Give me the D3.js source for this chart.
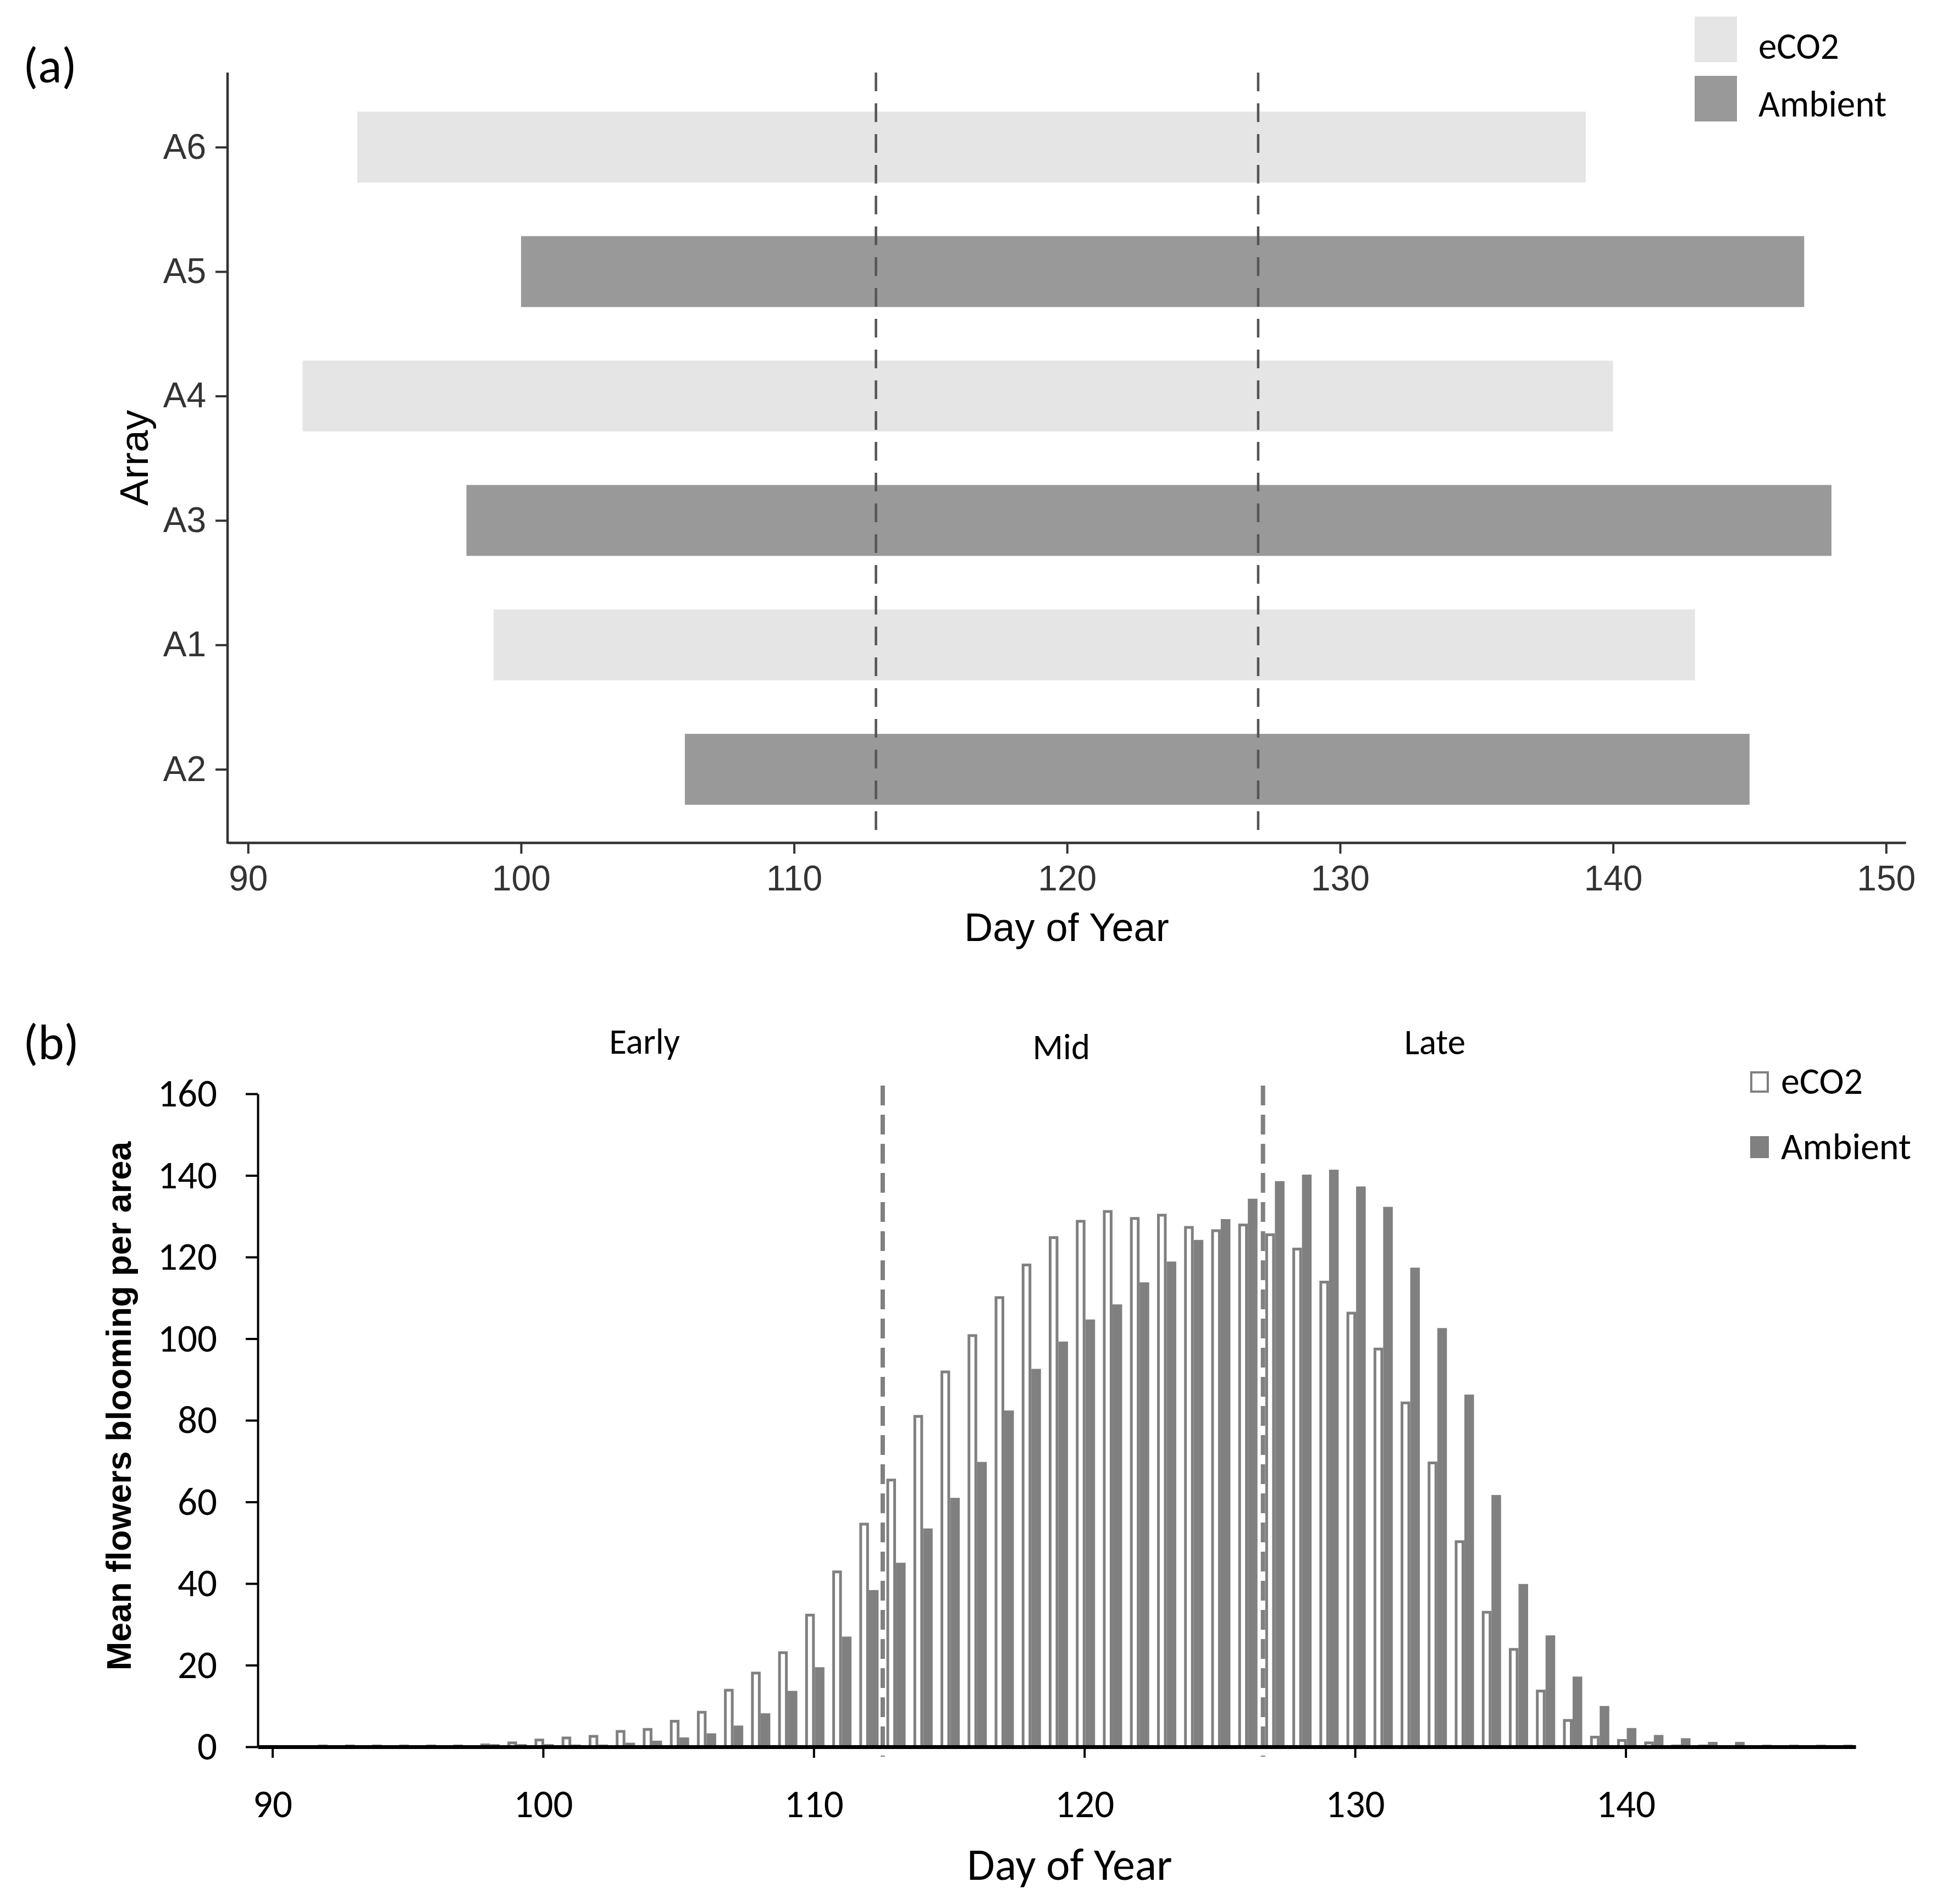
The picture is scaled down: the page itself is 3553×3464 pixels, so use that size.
<!DOCTYPE html>
<html>
<head>
<meta charset="utf-8">
<script src="https://cdn.jsdelivr.net/npm/d3@7"></script>
<style>
  body { margin: 0; background: #fff; }
</style>
</head>
<body>
<script>
// ---- panel (a): flowering period per array ----
const arrays = ["A6", "A5", "A4", "A3", "A1", "A2"];
const arrayTreatment = ["eCO2", "Ambient", "eCO2", "Ambient", "eCO2", "Ambient"];
const arrayStart = [94, 100, 92, 98, 99, 106];
const arrayEnd = [139, 147, 140, 148, 143, 145];
const phaseLinesA = [113, 127];
const ticksA = [90, 100, 110, 120, 130, 140, 150];

// ---- panel (b): mean flowers blooming per day ----
const days = [92, 93, 94, 95, 96, 97, 98, 99, 100, 101, 102, 103, 104, 105, 106, 107, 108, 109,
  110, 111, 112, 113, 114, 115, 116, 117, 118, 119, 120, 121, 122, 123, 124, 125, 126, 127, 128,
  129, 130, 131, 132, 133, 134, 135, 136, 137, 138, 139, 140, 141, 142, 143, 144, 145, 146, 147, 148];
const eco2 = [0.3, 0.3, 0.3, 0.3, 0.3, 0.3, 0.8, 1.3, 2.0, 2.5, 2.9, 4.1, 4.6, 6.6, 8.8, 14.2, 18.4, 23.4,
  32.6, 43.2, 54.9, 65.7, 81.3, 92.2, 101.1, 110.4, 118.4, 125.1, 129.1, 131.5, 129.8, 130.6, 127.6, 126.8, 128.2, 125.8, 122.3,
  114.2, 106.6, 97.8, 84.6, 69.9, 50.6, 33.3, 24.2, 14.0, 6.8, 2.7, 1.9, 1.3, 0.3, 0.2, 0, 0, 0, 0, 0];
const ambient = [0, 0, 0, 0, 0, 0, 0.45, 0.45, 0.45, 0.35, 0.35, 0.8, 1.3, 2.1, 3.1, 5.0, 8.0, 13.5,
  19.3, 26.8, 38.2, 44.9, 53.3, 60.8, 69.6, 82.2, 92.4, 99.1, 104.5, 108.2, 113.6, 118.7, 124.0, 129.1, 134.1, 138.4, 140.0,
  141.2, 137.1, 132.1, 117.2, 102.4, 86.1, 61.5, 39.7, 27.1, 17.0, 9.8, 4.4, 2.7, 1.9, 1.0, 1.0, 0.3, 0.3, 0.3, 0.3];
const phaseLinesB = [112.55, 126.6];
const phaseNames = ["Early", "Mid", "Late"];
const ticksBx = [90, 100, 110, 120, 130, 140];
const ticksBy = [0, 20, 40, 60, 80, 100, 120, 140, 160];

const calibri = "Carlito, 'Open Sans', sans-serif";
const arial = "'Liberation Sans', Arial, sans-serif";
const colA = { eCO2: "#e5e5e5", Ambient: "#999999" };
const barGrey = "#808080";

const svg = d3.select("body").append("svg")
    .attr("width", 3553)
    .attr("height", 3464)
    .style("display", "block");

// ================= panel (a) =================
const xA = d3.scaleLinear().domain([89.25, 150.72]).range([414, 3467]),
    yA = d3.scalePoint().domain(arrays).range([267.7, 1399.6]),
    barH = 129;

const gA = svg.append("g");

gA.selectAll(".range")
    .data(arrays)
    .enter().append("rect")
    .attr("class", "range")
    .attr("x", (d, i) => xA(arrayStart[i]))
    .attr("y", d => yA(d) - barH / 2)
    .attr("width", (d, i) => xA(arrayEnd[i]) - xA(arrayStart[i]))
    .attr("height", barH)
    .attr("fill", (d, i) => colA[arrayTreatment[i]]);

gA.selectAll(".phase")
    .data(phaseLinesA)
    .enter().append("line")
    .attr("x1", d => xA(d)).attr("x2", d => xA(d))
    .attr("y1", 132).attr("y2", 1533)
    .attr("stroke", "#555")
    .attr("stroke-width", 4.5)
    .attr("stroke-dasharray", "34,22");

// axes
const axA = gA.append("g")
    .attr("transform", "translate(0,1533)")
    .call(d3.axisBottom(xA).tickValues(ticksA).tickSize(20).tickSizeOuter(0).tickPadding(22));
const ayA = gA.append("g")
    .attr("transform", "translate(414,0)")
    .call(d3.axisLeft(yA).tickSize(22).tickPadding(17));
ayA.select(".domain").remove();
gA.append("line")
    .attr("x1", 414).attr("x2", 414).attr("y1", 132).attr("y2", 1535)
    .attr("stroke", "#333").attr("stroke-width", 4.5);

[axA, ayA].forEach(a => {
    a.attr("font-family", arial).attr("font-size", 64);
    a.selectAll("text").attr("fill", "#333");
    a.selectAll(".tick line").attr("stroke", "#333").attr("stroke-width", 4);
    a.select(".domain").attr("stroke", "#333").attr("stroke-width", 4.5);
});

gA.append("text")
    .attr("x", (414 + 3467) / 2).attr("y", 1712)
    .attr("text-anchor", "middle")
    .attr("font-family", arial).attr("font-size", 72)
    .text("Day of Year");

gA.append("text")
    .attr("transform", "translate(269,833) rotate(-90)")
    .attr("text-anchor", "middle")
    .attr("font-family", arial).attr("font-size", 73)
    .text("Array");

gA.append("text")
    .attr("x", 42).attr("y", 150)
    .attr("font-family", calibri).attr("font-size", 90)
    .text("(a)");

// legend (a)
const legA = gA.append("g");
["eCO2", "Ambient"].forEach((k, i) => {
    legA.append("rect")
        .attr("x", 3083).attr("y", 30 + i * 108)
        .attr("width", 77).attr("height", 83)
        .attr("fill", colA[k]);
    legA.append("text")
        .attr("x", 3199).attr("y", 107 + i * 105)
        .attr("font-family", calibri).attr("font-size", 67)
        .text(k);
});

// ================= panel (b) =================
const xB = d3.scaleLinear().domain([89.46, 148.5]).range([469, 3376]),
    yB = d3.scaleLinear().domain([0, 160]).range([3178, 1990]),
    bw = 17.5,
    sw = 5;

const gB = svg.append("g");

// eCO2: open bars to the left of the day
gB.selectAll(".eco2")
    .data(days.filter((d, i) => eco2[i] > 0))
    .enter().append("rect")
    .attr("class", "eco2")
    .attr("x", d => xB(d) - 15.5 + sw / 2)
    .attr("width", bw - sw)
    .attr("y", d => Math.min(yB(eco2[days.indexOf(d)]) + sw / 2, yB(0) - 1.5))
    .attr("height", d => Math.max(1.5, yB(0) - yB(eco2[days.indexOf(d)]) - sw / 2))
    .attr("fill", "#fff")
    .attr("stroke", barGrey)
    .attr("stroke-width", sw);

// Ambient: filled bars to the right
gB.selectAll(".amb")
    .data(days.filter((d, i) => ambient[i] > 0))
    .enter().append("rect")
    .attr("class", "amb")
    .attr("x", d => xB(d) + 2)
    .attr("width", bw)
    .attr("y", d => yB(ambient[days.indexOf(d)]) - 1.5)
    .attr("height", d => yB(0) - yB(ambient[days.indexOf(d)]) + 1.5)
    .attr("fill", barGrey);

gB.selectAll(".phase")
    .data(phaseLinesB)
    .enter().append("line")
    .attr("x1", d => xB(d)).attr("x2", d => xB(d))
    .attr("y1", 1975).attr("y2", 3196)
    .attr("stroke", barGrey)
    .attr("stroke-width", 8)
    .attr("stroke-dasharray", "36,17");

const axB = gB.append("g")
    .attr("transform", "translate(0,3178)")
    .call(d3.axisBottom(xB).tickValues(ticksBx).tickSize(20).tickSizeOuter(0).tickPadding(58));
const ayB = gB.append("g")
    .attr("transform", "translate(469,0)")
    .call(d3.axisLeft(yB).tickValues(ticksBy).tickSize(22).tickSizeOuter(0).tickPadding(52));

[axB, ayB].forEach(a => {
    a.attr("font-family", calibri).attr("font-size", 71);
    a.selectAll("text").attr("fill", "#000");
    a.selectAll(".tick line").attr("stroke", "#000").attr("stroke-width", 4);
});
axB.select(".domain").attr("stroke", "#000").attr("stroke-width", 7);
ayB.select(".domain").attr("stroke", "#000").attr("stroke-width", 4);
ayB.raise();

// phase labels
const phaseAt = [103.75, 119.15, 132.95],
    phaseBase = [1917, 1927, 1918];
gB.selectAll(".phaseName")
    .data(phaseNames)
    .enter().append("text")
    .attr("x", (d, i) => xB(phaseAt[i]))
    .attr("y", (d, i) => phaseBase[i])
    .attr("text-anchor", "middle")
    .attr("font-family", calibri).attr("font-size", 65)
    .text(d => d);

gB.append("text")
    .attr("x", 1946).attr("y", 3420)
    .attr("text-anchor", "middle")
    .attr("font-family", calibri).attr("font-size", 82)
    .text("Day of Year");

gB.append("text")
    .attr("transform", "translate(238,2558) rotate(-90)")
    .attr("text-anchor", "middle")
    .attr("font-family", arial).attr("font-weight", "bold").attr("font-size", 63)
    .text("Mean flowers blooming per area");

gB.append("text")
    .attr("x", 42).attr("y", 1927)
    .attr("font-family", calibri).attr("font-size", 90)
    .text("(b)");

// legend (b)
const legB = gB.append("g");
legB.append("rect")
    .attr("x", 3186).attr("y", 1951).attr("width", 30).attr("height", 35)
    .attr("fill", "#fff").attr("stroke", barGrey).attr("stroke-width", 4);
legB.append("rect")
    .attr("x", 3184).attr("y", 2067).attr("width", 34).attr("height", 40)
    .attr("fill", barGrey);
legB.append("text")
    .attr("x", 3240).attr("y", 1990)
    .attr("font-family", calibri).attr("font-size", 68)
    .text("eCO2");
legB.append("text")
    .attr("x", 3240).attr("y", 2109)
    .attr("font-family", calibri).attr("font-size", 68)
    .text("Ambient");
</script>
</body>
</html>
